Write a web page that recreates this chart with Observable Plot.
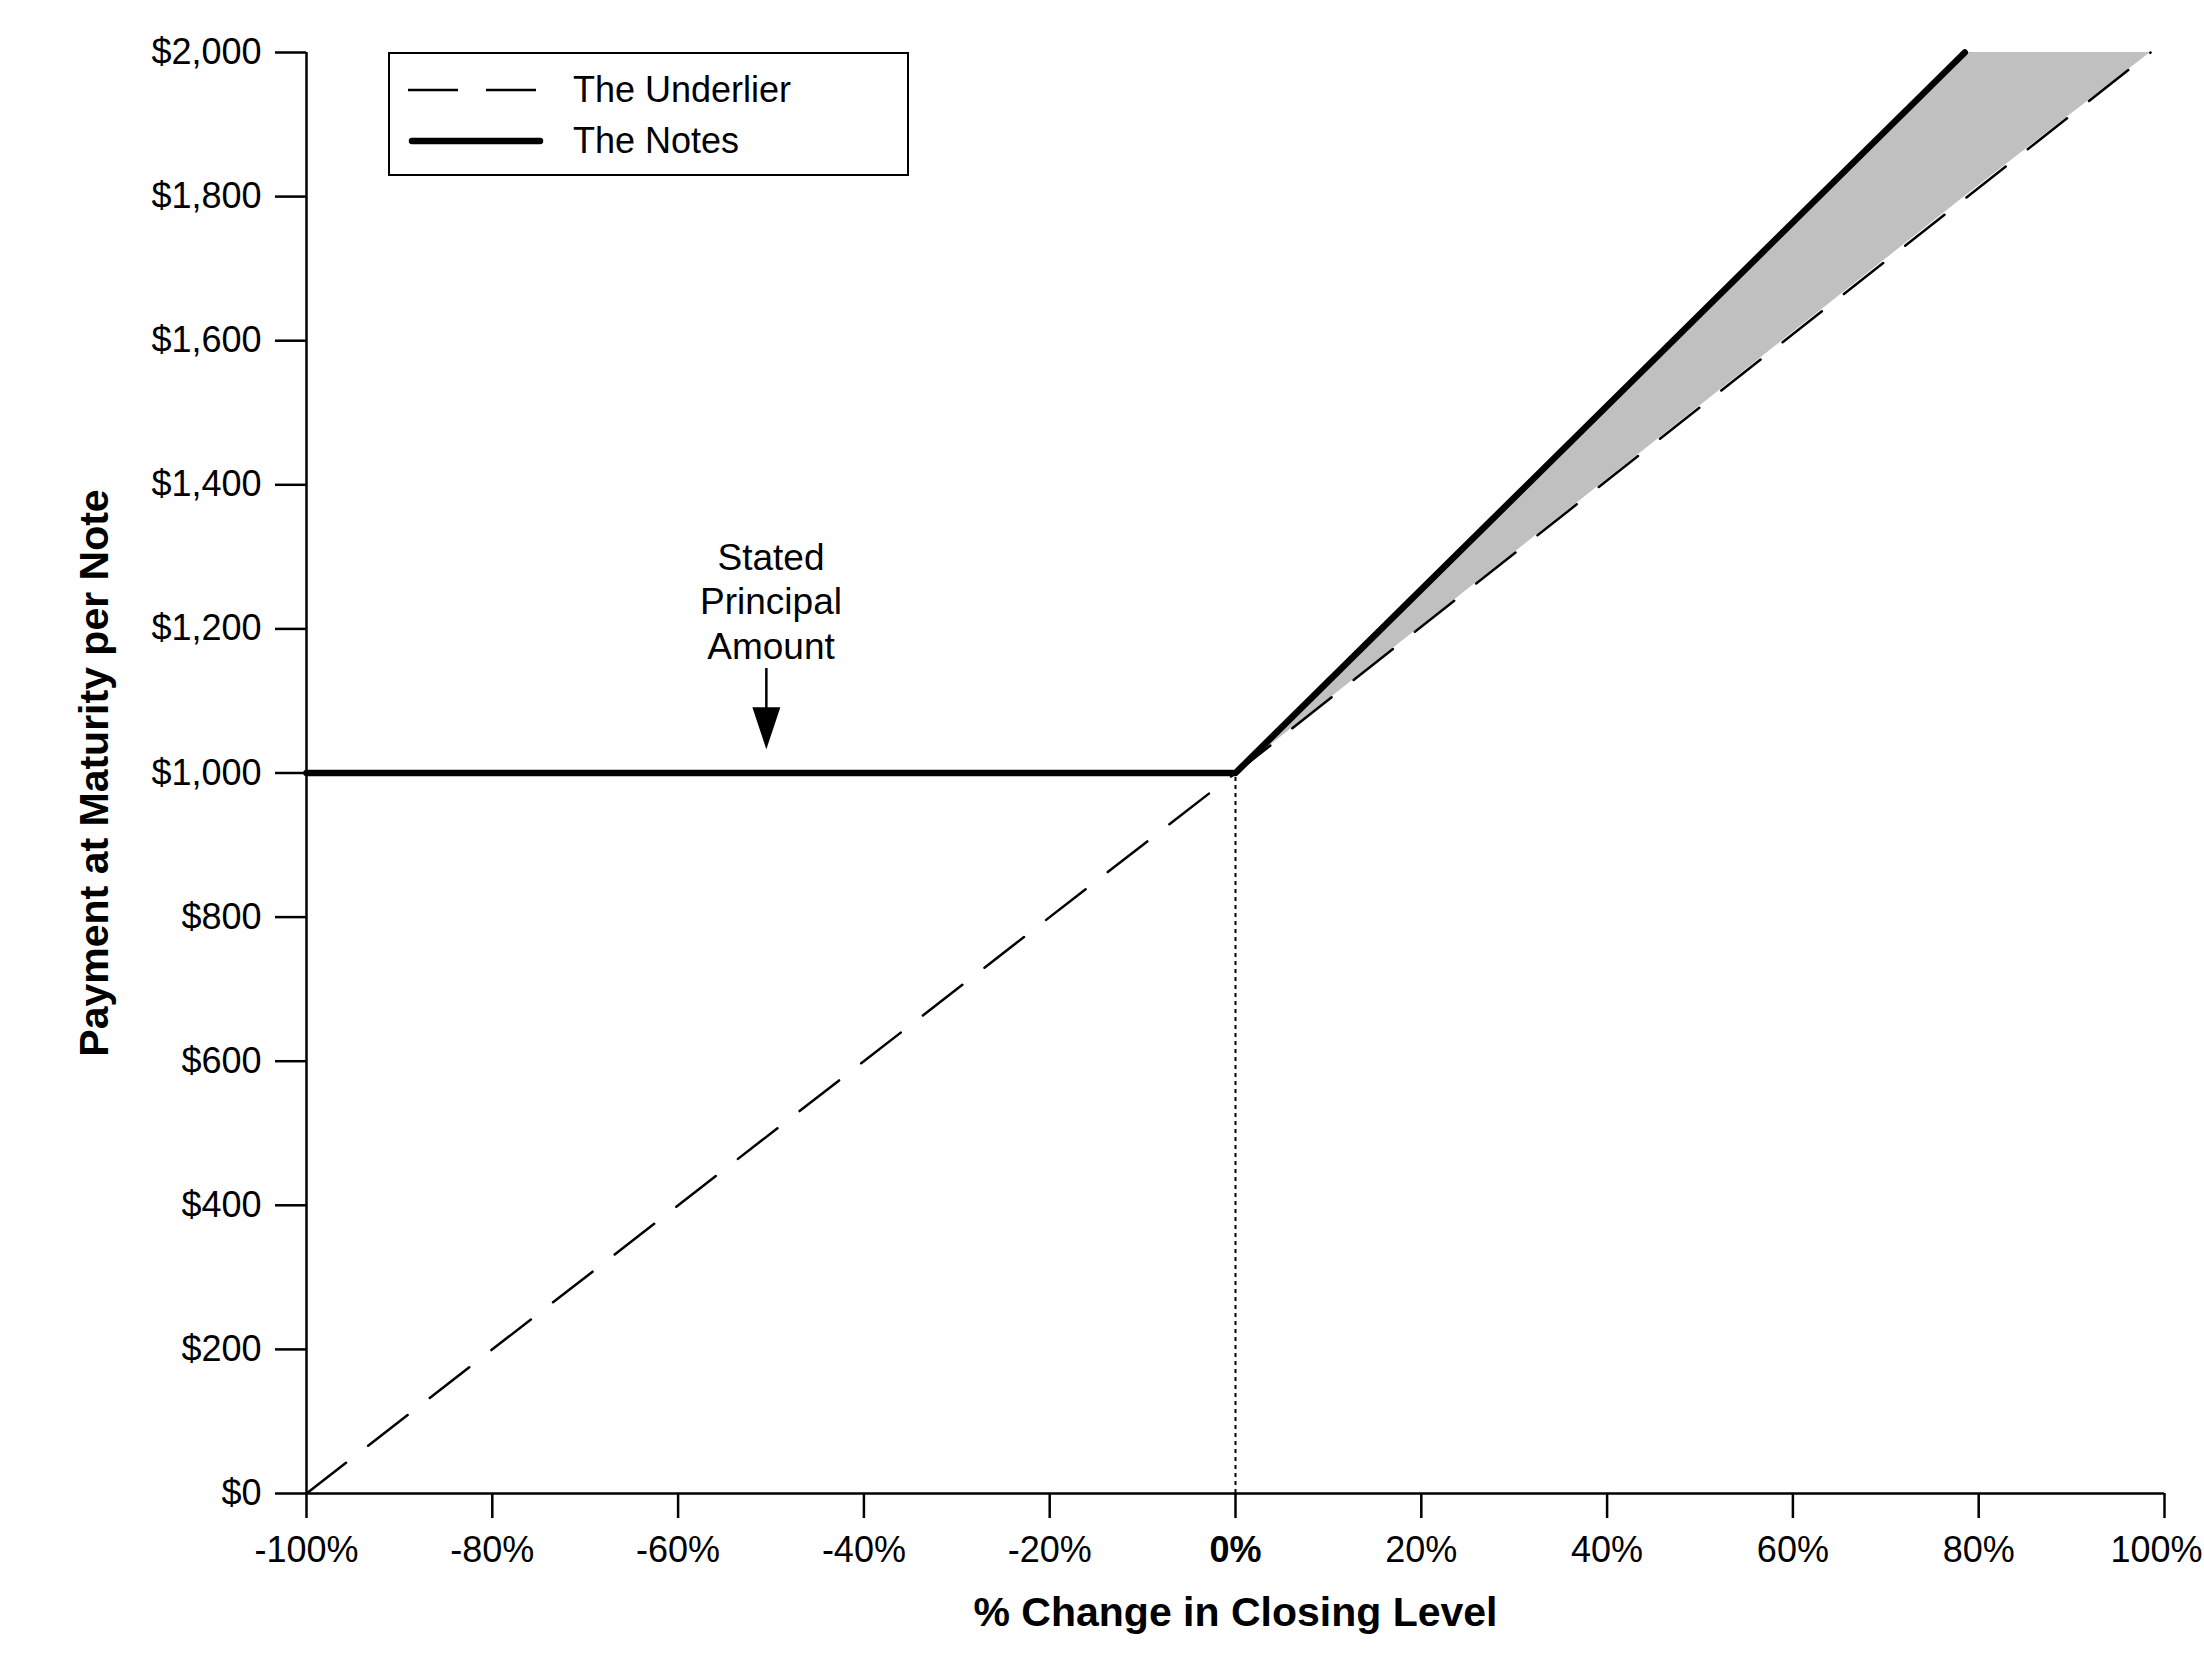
<!DOCTYPE html>
<html>
<head>
<meta charset="utf-8">
<script src="https://cdn.jsdelivr.net/npm/d3@7"></script>
<script src="https://cdn.jsdelivr.net/npm/@observablehq/plot@0.6"></script>
<style>
  html, body { margin: 0; padding: 0; background: #fff; }
  #wrap { position: relative; width: 2204px; height: 1664px; font-family: "Liberation Sans", Arial, sans-serif; }
  #legend { position: absolute; left: 388px; top: 52px; width: 517px; height: 120px; border: 2px solid #000; background: #fff; }
  #legend svg { position: absolute; left: 0; top: 0; }
  #legend .lab { position: absolute; left: 183px; font-size: 36px; line-height: 36px; color: #000; }
</style>
</head>
<body>
<div id="wrap">
  <div id="chart"></div>
  <div id="legend">
    <svg width="517" height="120">
      <line x1="18" y1="36" x2="148" y2="36" stroke="#000" stroke-width="2.5" stroke-dasharray="50,28"></line>
      <line x1="22" y1="87" x2="150" y2="87" stroke="#000" stroke-width="6.5" stroke-linecap="round"></line>
    </svg>
    <div class="lab" id="lab0" style="top:18px"></div>
    <div class="lab" id="lab1" style="top:69px"></div>
  </div>
</div>
<script>
// ---- data ----
const seriesNames = ["The Underlier", "The Notes"];
const xTicks = [-100, -80, -60, -40, -20, 0, 20, 40, 60, 80, 100];
const yTicks = [0, 200, 400, 600, 800, 1000, 1200, 1400, 1600, 1800, 2000];
const underlierX = [-100, 0, 98.5];
const underlierY = [0, 1000, 2000];
const notesX = [-100, 0, 78.5];
const notesY = [1000, 1000, 2000];
const shadeX = [0, 78.5, 98.5];
const shadeLow = [1000, 1800, 2000];
const shadeHigh = [1000, 2000, 2000];
const noteLabel = "Stated\nPrincipal\nAmount";
const noteX = -50;
const noteY = 1240;
const arrowX = -50.5;
const arrowFrom = 1145;
const arrowTo = 1033;
const xTitle = "% Change in Closing Level";
const yTitle = "Payment at Maturity per Note";

// ---- tables ----
const underlier = underlierX.map((x, i) => ({x, y: underlierY[i]}));
const notes = notesX.map((x, i) => ({x, y: notesY[i]}));
const shade = shadeX.map((x, i) => ({x, lo: shadeLow[i], hi: shadeHigh[i]}));

document.getElementById("lab0").textContent = seriesNames[0];
document.getElementById("lab1").textContent = seriesNames[1];

const headSymbol = {
  draw(ctx) {
    ctx.moveTo(-14, -42);
    ctx.lineTo(14, -42);
    ctx.lineTo(0, 0);
    ctx.closePath();
  }
};

const fmtY = d => "$" + d3.format(",")(d);
const fmtX = d => d + "%";
const xAxisOpts = { tickSize: 25, tickPadding: 18, tickFormat: fmtX, label: null, strokeWidth: 2.5, fill: "#000" };
const lastTick = xTicks[xTicks.length - 1];

const chart = Plot.plot({
  width: 2204,
  height: 1664,
  marginLeft: 306,
  marginRight: 40,
  marginTop: 52,
  marginBottom: 171,
  style: { fontFamily: "'Liberation Sans', Arial, sans-serif", fontSize: "36px", background: "#fff", color: "#000", overflow: "visible" },
  x: { domain: [-100, 100] },
  y: { domain: [0, 2000] },
  marks: [
    Plot.areaY(shade, { x: "x", y1: "lo", y2: "hi", fill: "#c0c0c0" }),
    Plot.ruleX([{x: 0, y1: 0, y2: 1000}], { x: "x", y1: "y1", y2: "y2", stroke: "#000", strokeWidth: 2, strokeDasharray: "4,4" }),
    Plot.line(underlier, { x: "x", y: "y", stroke: "#000", strokeWidth: 2.5, strokeDasharray: "50,28" }),
    Plot.line(notes, { x: "x", y: "y", stroke: "#000", strokeWidth: 6.5, strokeLinecap: "round", strokeLinejoin: "round" }),
    Plot.ruleX([-100], { stroke: "#000", strokeWidth: 2.5 }),
    Plot.ruleY([0], { stroke: "#000", strokeWidth: 2.5 }),
    Plot.axisY(yTicks, { tickSize: 31, tickPadding: 14, tickFormat: fmtY, label: null, strokeWidth: 2.5, fill: "#000" }),
    Plot.axisX(xTicks.filter(d => d !== 0 && d !== lastTick), xAxisOpts),
    Plot.axisX([lastTick], { ...xAxisOpts, tickFormat: () => "" }),
    Plot.text([lastTick], { x: d => d, text: fmtX, frameAnchor: "bottom", lineAnchor: "top", dy: 43, dx: -8, fill: "#000" }),
    Plot.axisX([0], { ...xAxisOpts, fontWeight: "bold" }),
    Plot.text([xTitle], { frameAnchor: "bottom", dy: 132, fontWeight: "bold", fontSize: 41, fill: "#000" }),
    Plot.text([yTitle], { frameAnchor: "left", textAnchor: "middle", rotate: -90, dx: -212, fontWeight: "bold", fontSize: 41, fill: "#000" }),
    Plot.text([{x: noteX, y: noteY, t: noteLabel}], { x: "x", y: "y", text: "t", fontSize: 37, lineHeight: 1.2, fill: "#000" }),
    Plot.ruleX([{x: arrowX, y1: arrowFrom, y2: arrowTo + 40}], { x: "x", y1: "y1", y2: "y2", stroke: "#000", strokeWidth: 2.5 }),
    Plot.dot([{x: arrowX, y: arrowTo}], { x: "x", y: "y", symbol: headSymbol, fill: "#000", stroke: "none" })
  ]
});
document.getElementById("chart").appendChild(chart);
</script>
</body>
</html>
